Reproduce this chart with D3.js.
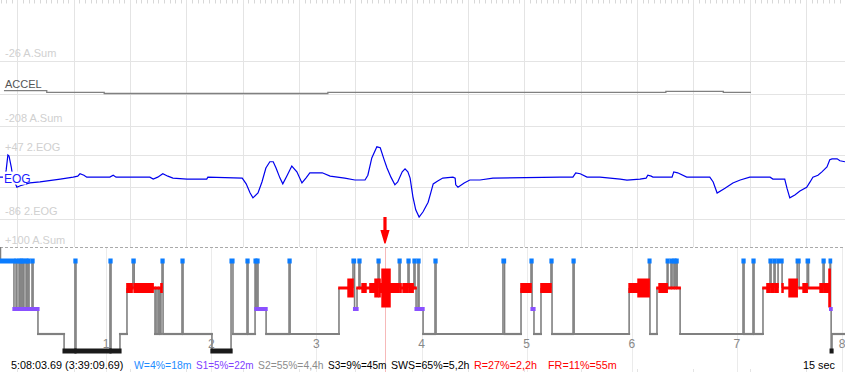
<!DOCTYPE html>
<html>
<head>
<meta charset="utf-8">
<script src="https://cdn.jsdelivr.net/npm/d3@7"></script>
<style>
  body { margin: 0; background: #fff; }
  svg { display: block; font-family: "Liberation Sans", Arial, sans-serif; }
</style>
</head>
<body>
<div id="chart"></div>
<script>
var svgWidth = 845;
var svgHeight = 372;

// Window shown in the upper traces: 15 sec starting at this clock time
var clockStart = "5:08:03.69";
var elapsedAtCursor = "3:39:09.69";
var windowSec = 15;
var startFraction = 0.69;

// ACCEL channel (A.Sum), step values
var accelRange = [-208, -26];
var accelT = [0.07, 0.83, 1.85, 5.82, 11.82, 12.84, 13.33];
var accelV = [-109, -113.6, -117, -113.6, -110.8, -113.6, -113.6];

// 2.EOG channel
var eogRange = [-86, 47];
var eogT = [0, 0.09, 0.11, 0.14, 0.16, 0.20, 0.23, 0.30, 0.36, 0.53,
  0.71, 1.07, 1.30, 1.38, 1.42, 1.49, 1.54, 1.95, 2.01, 2.06,
  2.66, 2.72, 2.80, 2.89, 2.98, 3.07, 3.32, 3.67, 3.69, 4.30,
  4.37, 4.44, 4.49, 4.58, 4.65, 4.72, 4.79, 4.85, 4.90, 4.97,
  5.02, 5.09, 5.18, 5.27, 5.36, 5.43, 5.50, 5.72, 5.86, 6.12,
  6.30, 6.48, 6.53, 6.60, 6.69, 6.75, 6.82, 6.87, 6.94, 7.01,
  7.06, 7.14, 7.19, 7.24, 7.28, 7.33, 7.38, 7.44, 7.51, 7.60,
  7.65, 7.69, 7.77, 7.86, 8.04, 8.08, 8.09, 8.13, 8.24, 8.34,
  8.52, 8.75, 9.94, 10.17, 10.22, 10.30, 10.42, 10.65, 11.01, 11.13,
  11.36, 11.47, 11.50, 11.56, 11.59, 11.93, 11.96, 12.03, 12.19, 12.60,
  12.66, 12.73, 12.87, 13.01, 13.14, 13.31, 13.67, 13.72, 13.93, 13.97,
  14.02, 14.11, 14.20, 14.32, 14.38, 14.43, 14.52, 14.59, 14.68, 14.73,
  14.77, 14.86, 14.91, 15.00];
var eogV = [1, 1, 16, 47, 45, 22, -1, -20, -17, -11,
  -9, -3, 1, 3, 8, 5, 1, 1, 5, 1,
  1, -3, 1, 8, 3, -1, -3, -3, 1, -1,
  -13, -32, -42, -32, -9, 20, 33, 33, 20, -1,
  -13, 3, 24, 12, -11, -1, 10, 10, 3, -1,
  -5, -5, 5, 41, 64, 62, 37, 20, 1, -15,
  -9, 12, 18, 12, -1, -40, -67, -82, -71, -51,
  -30, -13, -7, -1, 1, -1, -15, -20, -11, -5,
  -5, -1, 1, 1, 10, 8, 1, 1, -3, -5,
  -3, -1, 5, 3, 1, 1, 12, 10, 1, 1,
  -9, -32, -22, -11, -5, 1, 1, -3, -3, -22,
  -42, -36, -28, -20, -9, 1, 5, 12, 22, 37,
  39, 39, 35, 33];

// Hypnogram: [minute from start, stage]; R1..R4 = REM with density level
var recordEnd = 481.7;
var hourTicks = [1, 2, 3, 4, 5, 6, 7, 8];
var hypnogram = [
  [0, "W"], [7.4, "S1"],
  [8.6, "W"], [9.1, "S1"], [10.3, "W"], [10.8, "S1"], [11.4, "W"], [12.0, "S1"],
  [12.6, "W"], [13.1, "S1"], [14.3, "W"], [14.8, "S1"], [15.4, "W"], [16.0, "S1"],
  [17.7, "W"], [18.3, "S1"],
  [21.1, "S2"], [36.0, "S3"],
  [42.2, "W"], [42.8, "S3"], [62.2, "W"], [62.8, "S3"],
  [67.9, "S2"], [71.9, "R2"], [74.8, "R1"], [75.3, "W"], [76.0, "R2"],
  [86.8, "R1"], [87.9, "S2"], [88.5, "R1"], [89.6, "S2"], [90.2, "R1"],
  [90.8, "S2"], [91.3, "R2"], [91.9, "W"], [92.5, "S2"],
  [103.3, "W"], [103.9, "S2"],
  [120.4, "S3"], [131.3, "W"], [132.4, "S2"],
  [140.4, "W"], [141.0, "S2"],
  [145.0, "W"], [145.5, "S1"], [146.1, "W"], [146.7, "S1"],
  [151.3, "S2"], [164.4, "W"], [165.0, "S2"],
  [192.9, "R1"], [198.1, "R3"], [200.9, "W"], [201.8, "S1"], [203.2, "R1"],
  [204.3, "W"], [204.9, "R1"], [206.1, "R2"], [208.3, "R1"], [210.6, "R2"],
  [213.5, "R3"], [215.2, "W"], [215.8, "R3"], [216.3, "R2"], [217.5, "R4"],
  [222.0, "R2"], [227.2, "W"], [227.8, "R2"], [228.3, "R1"], [229.5, "R2"],
  [232.3, "W"], [232.9, "R2"], [235.2, "R1"], [235.7, "W"], [236.3, "R1"],
  [236.9, "S1"], [238.0, "W"], [238.6, "S1"],
  [240.9, "S2"], [247.7, "W"], [248.3, "S2"],
  [286.5, "W"], [287.4, "S2"],
  [296.8, "R2"], [302.5, "W"], [303.1, "S1"], [304.2, "S2"],
  [308.2, "R2"], [313.9, "W"], [314.5, "S2"],
  [326.5, "W"], [327.1, "S2"],
  [358.5, "R2"], [363.6, "R3"], [369.9, "W"], [370.4, "S2"],
  [374.4, "R1"], [375.6, "R2"], [380.2, "W"], [380.7, "R1"],
  [382.4, "W"], [383.0, "R1"], [384.1, "W"], [384.7, "R1"], [385.3, "W"], [385.9, "R1"],
  [387.6, "S2"], [423.5, "W"], [424.1, "S2"], [429.2, "W"], [429.8, "S2"],
  [434.9, "R1"], [437.2, "R2"], [438.9, "W"], [439.5, "R2"], [441.2, "W"], [441.8, "R2"],
  [443.5, "W"], [445.8, "R2"], [446.3, "R1"], [449.8, "R3"], [454.4, "W"], [455.5, "R1"],
  [457.8, "R2"], [460.1, "W"], [460.9, "R1"], [467.5, "R2"], [469.2, "W"], [469.8, "R2"],
  [472.6, "R4"], [473.2, "W"], [473.5, "S1"], [473.8, "S3"], [474.3, "S2"]
];

// Summary line
var statusParts = [
  [clockStart + " (" + elapsedAtCursor + ")", "#000"],
  ["W=4%=18m", "#1e8cff"],
  ["S1=5%=22m", "#8040ff"],
  ["S2=55%=4,4h", "#8c8c8c"],
  ["S3=9%=45m", "#000"],
  ["SWS=65%=5,2h", "#000"],
  ["R=27%=2,2h", "#ff0000"],
  ["FR=11%=55m", "#ff0000"]
];

var svg = d3.select("#chart")
  .append("svg")
  .attr("width", svgWidth)
  .attr("height", svgHeight);

var gridColor = "#e4e4e4";
var lightText = "#d0d0d0";

// ---- upper traces ----
var tx = d3.scaleLinear().domain([0, windowSec]).range([0, svgWidth]);
var accelY = d3.scaleLinear().domain(accelRange).range([126, 61]);
var eogY = d3.scaleLinear().domain(eogRange).range([219, 155]);
var hypTop = 247;

var secTicks = d3.range(1 - startFraction, windowSec, 1);
var tenthTicks = d3.range((1 - startFraction) % 0.1, windowSec, 0.1);

svg.append("g").selectAll("line")
  .data(tenthTicks)
  .enter().append("line")
  .attr("x1", d => Math.round(tx(d)) + 0.5)
  .attr("x2", d => Math.round(tx(d)) + 0.5)
  .attr("y1", 0).attr("y2", 3.5)
  .attr("stroke", "#d8d8d8");

svg.append("g").selectAll("line")
  .data(secTicks)
  .enter().append("line")
  .attr("x1", d => Math.round(tx(d)) + 0.5)
  .attr("x2", d => Math.round(tx(d)) + 0.5)
  .attr("y1", 0).attr("y2", hypTop)
  .attr("stroke", gridColor);

var hLines = [accelY(accelRange[1]), accelY((accelRange[0] + accelRange[1]) / 2), accelY(accelRange[0]),
  eogY(eogRange[1]), eogY((eogRange[0] + eogRange[1]) / 2), eogY(eogRange[0])];
svg.append("g").selectAll("line")
  .data(hLines)
  .enter().append("line")
  .attr("x1", 0).attr("x2", svgWidth)
  .attr("y1", d => Math.round(d) + 0.5)
  .attr("y2", d => Math.round(d) + 0.5)
  .attr("stroke", gridColor);

// range labels
var rangeLabels = [
  [accelRange[1] + " A.Sum", accelY(accelRange[1])],
  [accelRange[0] + " A.Sum", accelY(accelRange[0])],
  ["+" + eogRange[1] + " 2.EOG", eogY(eogRange[1])],
  [eogRange[0] + " 2.EOG", eogY(eogRange[0])],
  ["+100 A.Sum", hypTop + 1]
];
svg.append("g").selectAll("text")
  .data(rangeLabels)
  .enter().append("text")
  .attr("x", 5)
  .attr("y", d => Math.round(d[1]) - 4)
  .attr("font-size", "11px")
  .attr("fill", lightText)
  .text(d => d[0]);

// ACCEL trace
var accelData = accelT.map((t, i) => [t, accelV[i]]);
svg.append("path")
  .datum(accelData)
  .attr("fill", "none")
  .attr("stroke", "#808080")
  .attr("stroke-width", 1.3)
  .attr("d", d3.line().curve(d3.curveStepAfter).x(d => tx(d[0])).y(d => accelY(d[1])));

svg.append("text")
  .attr("x", 5).attr("y", 88)
  .attr("font-size", "11px")
  .attr("fill", "#555")
  .text("ACCEL");

// EOG trace
var eogData = eogT.map((t, i) => [t, eogV[i]]);
svg.append("path")
  .datum(eogData)
  .attr("fill", "none")
  .attr("stroke", "#0000ee")
  .attr("stroke-width", 1.2)
  .attr("d", d3.line().x(d => tx(d[0])).y(d => eogY(d[1])));

svg.append("rect")
  .attr("x", 3).attr("y", eogY(0) - 6)
  .attr("width", 23).attr("height", 13)
  .attr("fill", "#fff");
svg.append("text")
  .attr("x", 4).attr("y", eogY(0) + 5)
  .attr("font-size", "12px")
  .attr("fill", "#1a1aff")
  .text("EOG");

// ---- hypnogram ----
var hx = d3.scaleLinear().domain([0, 480]).range([1, 842]);
var stageY = d3.scaleOrdinal().domain(["W", "R", "S1", "S2", "S3"]).range([261, 288, 309, 334, 351]);
var remH = d3.scaleOrdinal().domain(["R1", "R2", "R3", "R4"]).range([3, 10, 19, 39]);
var stageColor = d3.scaleOrdinal().domain(["W", "R", "S1", "S2", "S3"])
  .range(["#0a7cff", "#ff0000", "#8a50ff", "#808080", "#1a1a1a"]);
function base(s) { return s[0] === "R" ? "R" : s; }

var segs = hypnogram.map(function(d, i) {
  return {
    start: d[0],
    end: i < hypnogram.length - 1 ? hypnogram[i + 1][0] : recordEnd,
    stage: d[1],
    prev: i > 0 ? hypnogram[i - 1][1] : null
  };
});

svg.append("g").selectAll("line")
  .data(hourTicks)
  .enter().append("line")
  .attr("x1", d => Math.round(hx(d * 60)) + 0.5)
  .attr("x2", d => Math.round(hx(d * 60)) + 0.5)
  .attr("y1", hypTop).attr("y2", svgHeight)
  .attr("stroke", "#ebebeb");

// little second ticks at the very bottom
svg.append("g").selectAll("line")
  .data(secTicks)
  .enter().append("line")
  .attr("x1", d => Math.round(tx(d)) + 0.5)
  .attr("x2", d => Math.round(tx(d)) + 0.5)
  .attr("y1", svgHeight - 3).attr("y2", svgHeight)
  .attr("stroke", "#e4e4e4");

svg.append("line")
  .attr("x1", 0).attr("x2", svgWidth)
  .attr("y1", hypTop + 0.5).attr("y2", hypTop + 0.5)
  .attr("stroke", "#aaa")
  .attr("stroke-dasharray", "3,2");

// cursor
var elParts = elapsedAtCursor.split(":").map(Number);
var cursorMin = elParts[0] * 60 + elParts[1] + elParts[2] / 60;
var cx = Math.round(hx(cursorMin)) + 0.5;
svg.append("line")
  .attr("x1", cx).attr("x2", cx)
  .attr("y1", hypTop + 1).attr("y2", svgHeight)
  .attr("stroke", "#f6b9b9");

// start edge
svg.append("line")
  .attr("x1", 0.5).attr("x2", 0.5)
  .attr("y1", hypTop).attr("y2", stageY("W"))
  .attr("stroke", "#808080").attr("stroke-width", 1.5);

// S2 horizontal lines
svg.append("g").selectAll("line")
  .data(segs.filter(d => d.stage === "S2"))
  .enter().append("line")
  .attr("x1", d => hx(d.start) - 1)
  .attr("x2", d => hx(d.end) + 1)
  .attr("y1", stageY("S2")).attr("y2", stageY("S2"))
  .attr("stroke", "#808080")
  .attr("stroke-width", 2.2);

// transitions
svg.append("g").selectAll("line")
  .data(segs.filter(d => d.prev !== null && base(d.prev) !== base(d.stage)))
  .enter().append("line")
  .attr("x1", d => hx(d.start))
  .attr("x2", d => hx(d.start))
  .attr("y1", d => stageY(base(d.prev)))
  .attr("y2", d => stageY(base(d.stage)))
  .attr("stroke", "#808080")
  .attr("stroke-width", 1.6);

// REM bars
svg.append("g").selectAll("rect")
  .data(segs.filter(d => base(d.stage) === "R"))
  .enter().append("rect")
  .attr("x", d => hx(d.start) - 0.8)
  .attr("width", d => Math.max(2.5, hx(d.end) - hx(d.start) + 1.6))
  .attr("y", d => stageY("R") - remH(d.stage) / 2)
  .attr("height", d => remH(d.stage))
  .attr("fill", stageColor("R"));

// S1, S3, W blocks
var blockH = { "S1": 4, "S3": 5, "W": 5 };
["S1", "S3", "W"].forEach(function(st) {
  svg.append("g").selectAll("rect")
    .data(segs.filter(d => d.stage === st))
    .enter().append("rect")
    .attr("x", d => hx(d.start) - 1.6)
    .attr("width", d => hx(d.end) - hx(d.start) + 3.2)
    .attr("y", stageY(st) - blockH[st] / 2)
    .attr("height", blockH[st])
    .attr("fill", stageColor(st));
});

// hour labels
svg.append("g").selectAll("text")
  .data(hourTicks)
  .enter().append("text")
  .attr("x", d => hx(d * 60))
  .attr("y", 348)
  .attr("text-anchor", "middle")
  .attr("font-size", "12px")
  .attr("fill", "#888")
  .text(d => d);

// red arrow over the cursor
var ax = hx(cursorMin);
svg.append("path")
  .attr("d", "M" + (ax - 1.6) + ",217 L" + (ax + 1.6) + ",217 L" + (ax + 1.6) + ",230 L" + (ax + 4.6) + ",230 L" +
    (ax + 0.6) + ",243.5 L" + (ax - 0.6) + ",243.5 L" + (ax - 4.6) + ",230 L" + (ax - 1.6) + ",230 Z")
  .attr("fill", "#ff0000");

// status line (each part is fitted into the slot it has in the original; last one runs free)
var statusX = [11, 134, 196, 258, 328, 391, 474, 548];
var statusG = svg.append("g").attr("font-size", "10.8px");
statusParts.forEach(function(p, i) {
  var t = statusG.append("text")
    .attr("x", statusX[i]).attr("y", 369)
    .attr("fill", p[1])
    .text(p[0]);
  if (i < statusX.length - 1) {
    var room = statusX[i + 1] - statusX[i] - 4.5;
    if (t.node().getComputedTextLength() > room) {
      t.attr("textLength", room).attr("lengthAdjust", "spacingAndGlyphs");
    }
  }
});
statusG.append("text")
  .attr("x", 803).attr("y", 369)
  .attr("fill", "#000")
  .text(windowSec + " sec");
</script>
</body>
</html>
